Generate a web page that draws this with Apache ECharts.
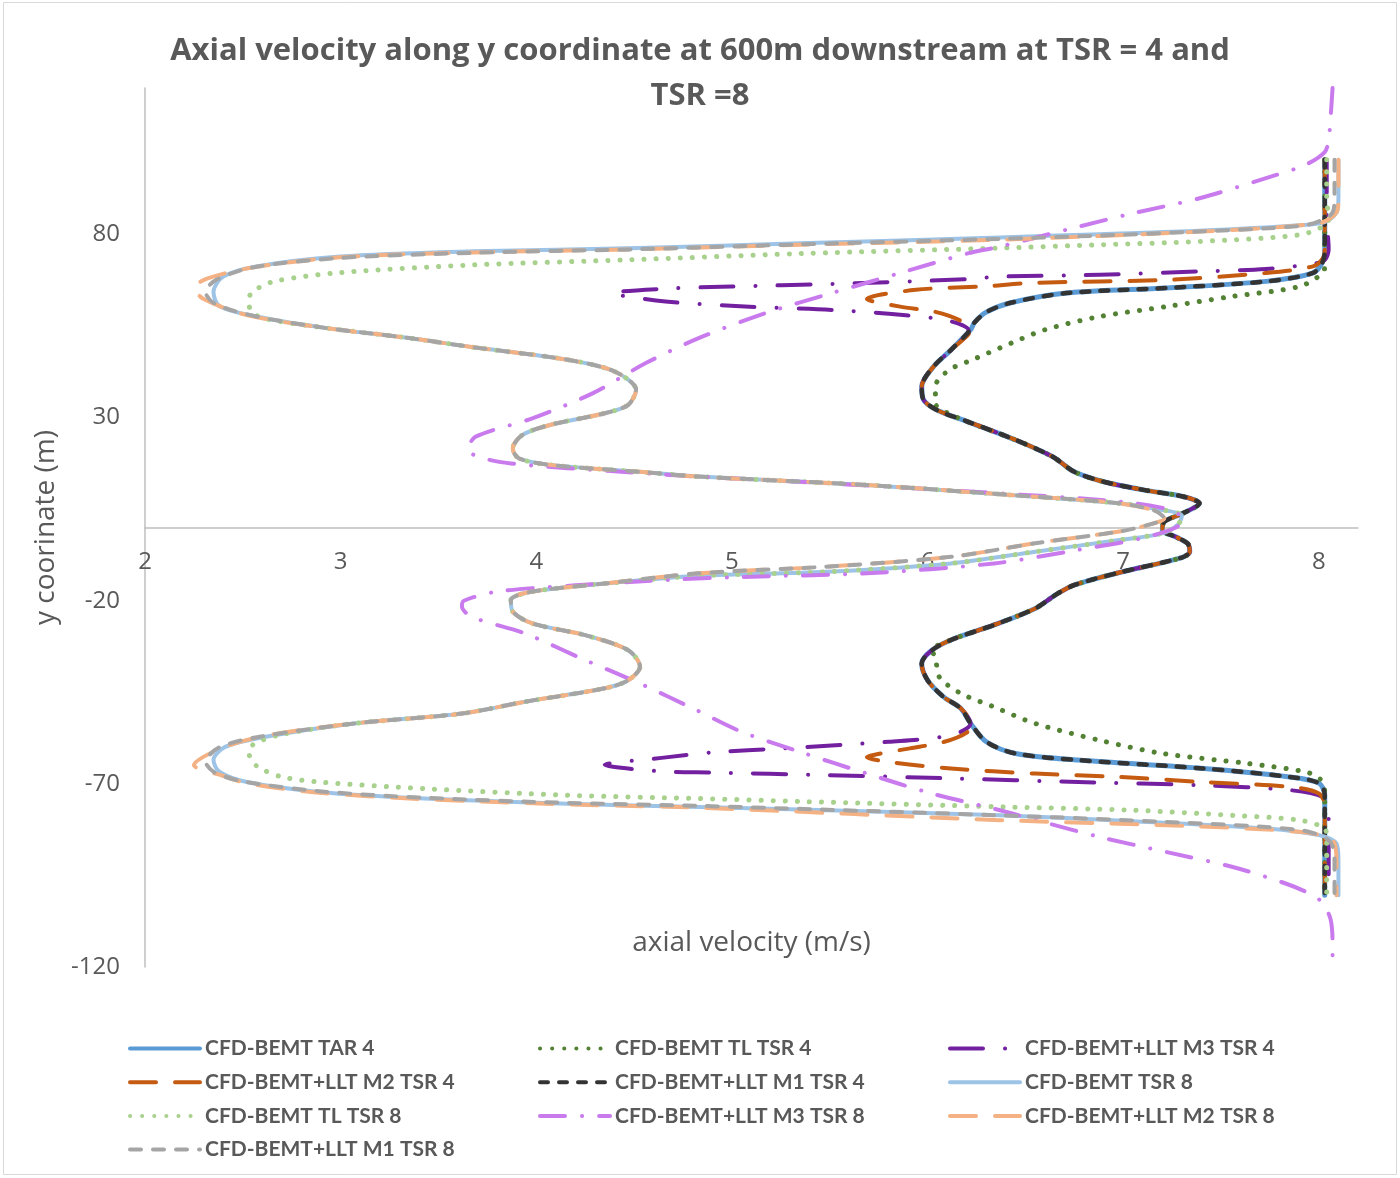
<!DOCTYPE html>
<html>
<head>
<meta charset="utf-8">
<title>Axial velocity along y coordinate</title>
<script src="https://cdn.jsdelivr.net/npm/echarts@6/dist/echarts.min.js"></script>
<style>
  html, body { margin: 0; padding: 0; background: #fff; }
  #res { width: 1400px; height: 1178px; }
</style>
</head>
<body>
<div id="res"></div>
<script>
// values: [axial velocity (m/s), y (m)]

// ---- TSR 4 curves ----
const tar4Top = [[8.03,100.4],[8.03,85],[8.03,76],[8.02,72.6],[7.97,69.5],[7.73,67.2],[7.22,65.4],[6.71,64.0],[6.42,61.3],[6.30,58.8],[6.24,56.0]];
const tsr4Upper = [[6.22,54.0],[6.12,48.5],[6.03,43.9],[5.97,38.5],[5.98,34.8],[6.05,32.0]];
const tsr4Mid = [[6.20,29.0],[6.45,23.9],[6.64,19.3],[6.75,15.2],[6.90,12.5],[7.11,10.2],[7.31,8.4],[7.39,6.6],[7.31,4.0],[7.21,1.6],[7.20,-0.7],[7.27,-2.6],[7.33,-4.4],[7.34,-6.6],[7.30,-8.2],[6.98,-12.3],[6.75,-15.7],[6.66,-18.2],[6.55,-22.1],[6.34,-26.6],[6.12,-30.7],[6.02,-33.6]];
const tsr4Lower = [[5.97,-37.1],[6.00,-41.7],[6.08,-46.2],[6.17,-49.4],[6.22,-53.5]];
const tar4Bottom = [[6.30,-58.5],[6.45,-61.7],[6.77,-63.5],[7.41,-65.8],[7.85,-68.1],[8.00,-69.8],[8.03,-73],[8.03,-85],[8.03,-100.4]];

const tl4Top = [[8.03,100.4],[8.03,85],[8.03,76],[8.03,72],[8.02,69.5],[7.90,65.8],[7.56,63.1],[7.22,60.3],[6.88,57.6],[6.60,54.0],[6.43,50.4],[6.23,45.8],[6.11,43.0],[6.04,38.5],[6.04,33.9],[6.10,31.3]];
const tl4Bottom = [[6.04,-35.3],[6.06,-40.8],[6.17,-45.3],[6.34,-49.0],[6.55,-53.5],[6.88,-58.1],[7.20,-61.7],[7.63,-64.4],[7.95,-67.0],[8.02,-69.5],[8.03,-73],[8.03,-85],[8.03,-100.4]];

const m2t4Top = [[8.03,100.4],[8.03,85],[8.03,76],[8.02,73.5],[7.97,71.3],[7.73,69.5],[7.22,67.6],[6.54,66.8],[6.28,65.8],[5.94,64.9],[5.69,62.4],[5.86,60.3],[6.03,59.0],[6.16,56.7]];
const m2t4Bottom = [[6.20,-56.0],[6.08,-58.6],[5.91,-60.3],[5.76,-61.7],[5.69,-62.7],[5.80,-64.0],[6.12,-65.8],[6.55,-67.2],[6.98,-68.1],[7.41,-69.5],[7.85,-70.8],[8.00,-72.6],[8.03,-76],[8.03,-85],[8.03,-100.4]];

const m3t4Top = [[8.04,100.4],[8.04,85],[8.05,76],[8.03,73],[7.97,72.0],[7.73,70.6],[7.39,69.9],[6.88,69.0],[6.37,68.5],[6.20,67.8],[5.51,66.5],[5.00,65.8],[4.66,65.2],[4.39,64.0],[4.66,61.7],[5.09,60.3],[5.51,59.4],[5.86,58.1],[6.11,56.4],[6.21,53.8]];
const m3t4Bottom = [[6.12,-56.7],[5.80,-58.5],[5.26,-60.3],[4.90,-61.4],[4.64,-62.9],[4.35,-64.8],[4.64,-66.6],[4.90,-66.9],[5.48,-67.6],[6.12,-68.5],[6.77,-69.5],[7.41,-70.4],[7.85,-71.7],[8.02,-73.6],[8.05,-77],[8.05,-85],[8.05,-98]];

// ---- TSR 8 curves ----
const tsr8Upper = [[2.92,54.5],[3.34,51.8],[3.68,49.2],[4.16,45.8],[4.40,42.6],[4.51,37.6],[4.47,33.5],[4.35,31.2],[4.07,28.0],[3.93,25.3],[3.88,21.6],[3.91,18.9],[4.07,17.1],[4.53,15.2],[4.83,13.9],[5.69,11.6],[6.55,8.4],[6.98,6.6]];
const tsr8Zero = [[7.20,4.8],[7.30,3.2],[7.28,0.8],[7.20,-1.6],[6.98,-3.4],[6.55,-6.6],[6.12,-9.8],[5.48,-12.1],[4.83,-13.2]];
const mTsr8Zero = [[7.16,4.6],[7.21,2.5],[7.12,0.6],[6.98,-1.1],[6.55,-4.3],[6.12,-8.0],[5.48,-10.7],[4.83,-12.5]];
const tsr8Lower = [[4.35,-15.3],[3.98,-17.5],[3.87,-19.8],[3.88,-23.0],[3.98,-26.2],[4.25,-29.4],[4.47,-33.5],[4.53,-38.0],[4.47,-41.7],[4.35,-43.9],[3.95,-47.5],[3.62,-50.8],[3.07,-53.5]];

const tsr8Top = [[8.10,100.4],[8.10,90],[8.09,86],[8.03,83.4],[7.90,82.5],[7.39,81.0],[6.88,80.1],[6.37,79.2],[5.35,77.6],[4.53,76.3],[3.68,75.4],[3.00,74.0],[2.57,71.3],[2.40,68.5],[2.35,64.3],[2.38,60.5],[2.57,57.6]];
const tsr8Bottom = [[2.61,-57.2],[2.41,-59.9],[2.35,-63.5],[2.38,-66.7],[2.52,-69.5],[2.89,-72.2],[3.43,-74.0],[4.16,-75.4],[4.83,-76.3],[5.35,-77.0],[6.37,-78.6],[7.05,-80.2],[7.73,-82.2],[8.00,-84.0],[8.09,-86.3],[8.10,-91],[8.10,-100.4]];

const tl8Top = [[8.04,100.4],[8.04,90],[8.05,84],[8.03,82.4],[7.90,79.9],[7.39,78.1],[6.88,77.2],[6.37,76.3],[5.35,74.8],[4.48,73.1],[3.68,71.7],[3.00,69.6],[2.66,67.2],[2.55,64.4],[2.53,62.2],[2.54,59.4],[2.60,57.2]];
const tl8Bottom = [[2.70,-56.5],[2.56,-59.0],[2.53,-61.3],[2.55,-64.0],[2.59,-65.8],[2.70,-68.1],[2.89,-69.5],[3.43,-71.3],[4.16,-73.1],[4.83,-74.0],[5.35,-74.8],[6.40,-76.3],[7.05,-77.2],[7.56,-78.6],[7.90,-79.9],[8.03,-82.2],[8.04,-85],[8.04,-100.4]];

const m3t8 = [[8.07,120],[8.06,112],[8.05,106],[8.03,102.5],[7.93,99.0],[7.73,95.4],[7.39,89.9],[7.05,85.8],[6.71,81.3],[6.37,76.7],[6.21,74.9],[5.86,69.5],[5.51,64.0],[5.17,58.5],[4.83,51.7],[4.56,44.9],[4.29,36.7],[3.98,29.8],[3.69,24.8],[3.65,21.2],[3.73,18.9],[3.87,17.5],[4.16,16.2],[4.83,13.9],[5.48,12.1],[6.34,9.4],[6.98,7.1],[7.24,4.8],[7.31,2.0],[7.26,-0.2],[7.09,-3.0],[6.77,-6.1],[6.34,-9.8],[5.69,-12.5],[5.05,-13.5],[4.71,-14.2],[4.20,-15.8],[3.80,-17.5],[3.63,-20.0],[3.62,-21.6],[3.67,-24.4],[3.94,-28.9],[4.25,-36.2],[4.53,-42.6],[4.82,-49.9],[5.05,-55.8],[5.35,-61.3],[5.69,-67.2],[6.02,-72.6],[6.37,-77.2],[6.59,-80.4],[6.88,-84.5],[7.22,-88.6],[7.56,-92.7],[7.83,-97.2],[7.97,-100.4],[8.02,-102.6],[8.06,-107],[8.07,-114],[8.07,-120]];

const m2t8Top = [[8.10,100.4],[8.10,90],[8.09,86],[8.00,83.1],[7.39,80.8],[6.37,78.6],[5.35,77.2],[4.53,76.0],[3.68,75.1],[3.00,73.8],[2.55,71.0],[2.32,68.0],[2.25,65.4],[2.30,62.4],[2.52,58.0]];
const m2t8Bottom = [[2.60,-57.0],[2.38,-60.5],[2.25,-64.9],[2.38,-67.5],[2.52,-69.8],[2.89,-72.4],[3.43,-74.2],[4.16,-75.6],[4.83,-76.5],[6.37,-79.9],[7.22,-81.3],[7.90,-83.1],[8.07,-85.4],[8.09,-91],[8.09,-100.4]];

const m1t8Top = [[8.08,100.4],[8.08,90],[8.07,86],[8.00,83.6],[7.90,82.3],[7.39,80.8],[6.88,79.7],[6.37,78.8],[5.35,77.3],[4.53,76.0],[3.68,75.0],[3.00,73.6],[2.55,71.0],[2.36,67.5],[2.31,64.2],[2.36,61.0],[2.57,57.6]];
const m1t8Bottom = [[2.60,-57.0],[2.38,-60.0],[2.31,-64.0],[2.36,-67.0],[2.50,-69.3],[2.89,-72.0],[3.43,-73.8],[4.16,-75.2],[4.83,-76.0],[6.37,-78.6],[7.22,-80.4],[7.90,-82.6],[8.05,-85.4],[8.08,-89.6],[8.08,-100.4]];

const names = ['CFD-BEMT TAR 4', 'CFD-BEMT TL TSR 4', 'CFD-BEMT+LLT M3 TSR 4', 'CFD-BEMT+LLT M2 TSR 4', 'CFD-BEMT+LLT M1 TSR 4',
  'CFD-BEMT TSR 8', 'CFD-BEMT TL TSR 8', 'CFD-BEMT+LLT M3 TSR 8', 'CFD-BEMT+LLT M2 TSR 8', 'CFD-BEMT+LLT M1 TSR 8'];
const xTicks = [2, 8.2, 1];      // min, max, step
const yTicks = [-120, 120, 50];

const tar4 = [].concat(tar4Top, tsr4Upper, tsr4Mid, tsr4Lower, tar4Bottom);
const tl4 = [].concat(tl4Top, tsr4Mid, tl4Bottom);
const m3t4 = [].concat(m3t4Top, tsr4Upper.slice(1), tsr4Mid, tsr4Lower, m3t4Bottom);
const m2t4 = [].concat(m2t4Top, tsr4Upper, tsr4Mid, tsr4Lower, m2t4Bottom);
const m1t4 = [].concat(tar4Top, tsr4Upper, tsr4Mid, tsr4Lower, tar4Bottom);
const tsr8 = [].concat(tsr8Top, tsr8Upper, tsr8Zero, tsr8Lower, tsr8Bottom);
const tl8 = [].concat(tl8Top, tsr8Upper, tsr8Zero, tsr8Lower, tl8Bottom);
const m2t8 = [].concat(m2t8Top, tsr8Upper, mTsr8Zero, tsr8Lower, m2t8Bottom);
const m1t8 = [].concat(m1t8Top, tsr8Upper, mTsr8Zero, tsr8Lower, m1t8Bottom);

const font = '"Open Sans", Lato, sans-serif';
const legendFont = 'Lato, "Open Sans", sans-serif';
const grey = '#595959';

function line(name, data, color, width, type) {
  return {
    name: name,
    type: 'line',
    data: data,
    smooth: 0.3,
    symbol: 'none',
    lineStyle: { color: color, width: width, type: type, cap: 'round', join: 'round' },
    itemStyle: { color: color },
    emphasis: { disabled: true }
  };
}

function legendCol(left, data) {
  return {
    orient: 'vertical',
    left: left,
    top: 1033,
    data: data,
    itemWidth: 70,
    itemHeight: 20,
    itemGap: 12.7,
    selectedMode: false,
    itemStyle: { opacity: 0 },
    lineStyle: { width: 4 },
    textStyle: { color: grey, fontSize: 21, fontWeight: 'bold', fontFamily: legendFont, lineHeight: 20 }
  };
}

let myChart = echarts.init(document.getElementById('res'));
let option = {
  animation: false,
  backgroundColor: '#fff',
  title: {
    text: 'Axial velocity along y coordinate at 600m downstream at TSR = 4 and\nTSR =8',
    left: 'center',
    top: 24,
    textStyle: { color: grey, fontSize: 31, fontWeight: 'bold', fontFamily: font, lineHeight: 45 }
  },
  graphic: [{
    type: 'rect',
    shape: { x: 3.5, y: 2.5, width: 1393, height: 1172 },
    style: { fill: 'none', stroke: '#D9D9D9', lineWidth: 1 },
    silent: true
  }],
  legend: [
    legendCol(123, [names[0], names[3], names[6], names[9]]),
    legendCol(533, [names[1], names[4], names[7]]),
    legendCol(943, [names[2], names[5], names[8]])
  ],
  grid: { left: 145, right: 42, top: 88, bottom: 211, outerBoundsMode: 'none' },
  xAxis: {
    type: 'value',
    min: xTicks[0], max: xTicks[1], interval: xTicks[2],
    position: 'bottom',
    offset: -439.5,   // axis crosses at y = 0
    name: 'axial velocity (m/s)',
    nameLocation: 'middle',
    nameGap: 402,
    nameTextStyle: { color: grey, fontSize: 28, fontFamily: font },
    axisLine: { onZero: false, lineStyle: { color: '#BFBFBF', width: 1.5 } },
    axisTick: { show: false },
    splitLine: { show: false },
    axisLabel: { color: grey, fontSize: 24, fontFamily: font, margin: 23, showMaxLabel: false }
  },
  yAxis: {
    type: 'value',
    min: yTicks[0], max: yTicks[1], interval: yTicks[2],
    name: 'y coorinate (m)',
    nameLocation: 'middle',
    nameGap: 83,
    nameTextStyle: { color: grey, fontSize: 28, fontFamily: font },
    axisLine: { show: true, onZero: false, lineStyle: { color: '#BFBFBF', width: 1.5 } },
    axisTick: { show: false },
    splitLine: { show: false },
    axisLabel: { color: grey, fontSize: 24, fontFamily: font, margin: 25, showMaxLabel: false }
  },
  series: [
    line(names[0], tar4, '#5B9BD5', 5, 'solid'),
    line(names[1], tl4, '#548235', 5, [0.1, 12]),
    line(names[2], m3t4, '#7320A0', 4, [33, 22, 0.1, 22]),
    line(names[3], m2t4, '#C55A11', 4, [26, 19]),
    line(names[4], m1t4, '#333333', 4.5, [8, 11]),
    line(names[5], tsr8, '#9DC3E6', 4, 'solid'),
    line(names[6], tl8, '#A9D18E', 5, [0.1, 12]),
    line(names[7], m3t8, '#C97BEE', 4, [25, 17, 0.1, 17]),
    line(names[8], m2t8, '#F4B183', 4, [26, 19]),
    line(names[9], m1t8, '#A5A5A5', 4, [11, 12])
  ]
};
option && myChart.setOption(option);
</script>
</body>
</html>
